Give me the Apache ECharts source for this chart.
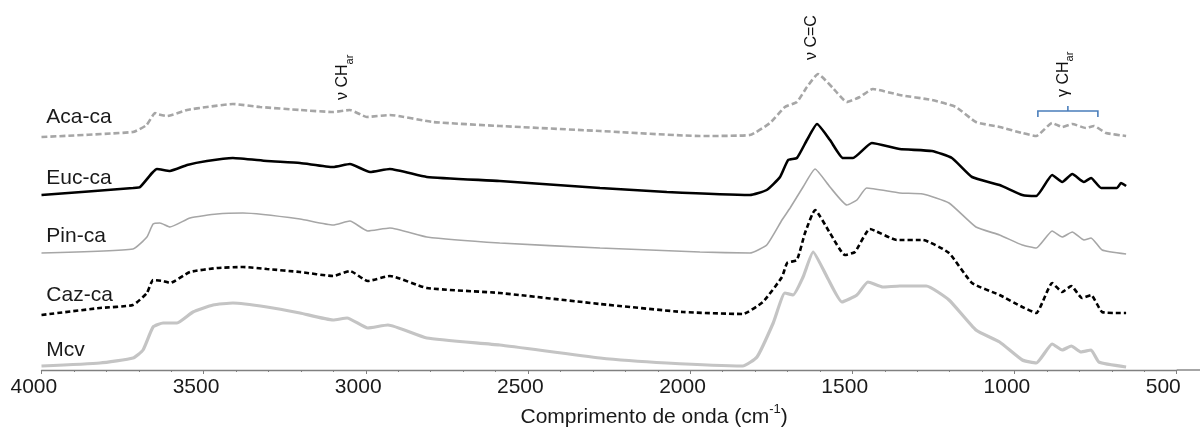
<!DOCTYPE html>
<html>
<head>
<meta charset="utf-8">
<script src="https://cdn.jsdelivr.net/npm/echarts@6/dist/echarts.min.js"></script>
<style>html,body{margin:0;padding:0;background:#fff}#c{width:1200px;height:428px}</style>
</head>
<body>
<div id="c"></div>
<script>
// ---- data (wavenumber cm-1, stacked intensity) ----
const seriesNames = ['Aca-ca', 'Euc-ca', 'Pin-ca', 'Caz-ca', 'Mcv'];
const xTicks = [4000, 3500, 3000, 2500, 2000, 1500, 1000, 500];

const acaCa = [[4000,233],[3718,238],[3676,245],[3650,257],[3644,256],[3613,254],[3551,260],[3490,263],[3410,266],[3326,263],[3203,260],[3101,258],[3049,260],[2997,253],[2926,255],[2793,248],[2587,244],[2278,239],[1970,234],[1816,235],[1754,247],[1708,263],[1671,268],[1640,283],[1606,296],[1560,282],[1517,268],[1477,273],[1437,281],[1354,275],[1255,270],[1181,263],[1119,248],[1046,243],[976,237],[933,234],[884,247],[853,243],[822,246],[780,242],[755,244],[718,237],[656,234]];
const eucCa = [[4000,175],[3718,182],[3696,183],[3659,197],[3644,201],[3604,199],[3551,205],[3490,209],[3410,212],[3305,209],[3203,207],[3101,203],[3049,206],[2987,198],[2926,201],[2812,193],[2587,189],[2278,182],[2072,178],[1816,175],[1764,180],[1723,193],[1698,210],[1671,212],[1640,230],[1609,246],[1569,230],[1529,212],[1498,212],[1440,227],[1354,221],[1255,219],[1193,212],[1131,193],[1046,185],[976,175],[933,174],[884,195],[853,188],[822,196],[786,188],[764,192],[733,182],[684,182],[672,187],[656,184]];
const pinCa = [[4000,117],[3718,121],[3675,133],[3656,146],[3635,147],[3604,143],[3542,152],[3459,156],[3379,157],[3203,151],[3101,145],[3049,149],[2994,139],[2926,142],[2812,133],[2587,127],[2278,122],[1970,118],[1816,117],[1764,125],[1717,150],[1692,162],[1652,183],[1615,201],[1569,183],[1517,165],[1486,170],[1456,182],[1354,177],[1283,176],[1202,167],[1119,143],[1046,135],[976,125],[933,122],[884,139],[853,133],[822,138],[786,130],[764,132],[730,120],[656,116]];
const cazCa = [[4000,55],[3820,62],[3718,65],[3675,77],[3656,90],[3625,89],[3604,87],[3542,98],[3459,102],[3379,103],[3305,101],[3203,98],[3101,94],[3049,99],[2994,89],[2926,94],[2812,82],[2587,77],[2278,66],[2022,58],[1838,56],[1776,68],[1717,93],[1701,107],[1671,110],[1646,137],[1615,160],[1569,137],[1523,115],[1492,118],[1446,141],[1363,130],[1283,130],[1202,117],[1131,87],[1046,75],[976,63],[933,57],[884,87],[853,78],[825,84],[792,72],[764,75],[730,58],[678,57],[656,57]];
const mcv = [[4000,4],[3820,7],[3718,12],[3687,20],[3656,43],[3625,47],[3582,47],[3533,58],[3471,65],[3410,67],[3305,63],[3203,57],[3101,50],[3058,52],[2994,42],[2932,45],[2812,32],[2587,25],[2278,12],[2072,7],[1838,4],[1794,13],[1744,47],[1708,77],[1683,75],[1652,93],[1621,118],[1578,93],[1532,68],[1486,75],[1452,88],[1406,83],[1354,84],[1272,84],[1202,70],[1119,40],[1046,28],[976,10],[933,7],[884,26],[853,20],[825,24],[795,18],[764,20],[740,8],[656,3]];

const annotations = [
  {main: 'ν CH', sub: 'ar', wn: 3064},
  {main: 'ν C=C', sub: '', wn: 1619},
  {main: 'γ CH', sub: 'ar', wn: 842}
];
const bracketRange = [928, 743];

// ---- layout / style ----
const seriesData = [acaCa, eucCa, pinCa, cazCa, mcv];
const labelLevels = [253, 192, 134, 75, 20];
const annotBottoms = [270, 310, 273];
const bracketLevel = 259;
const FONT = "'Liberation Sans', Arial, Helvetica, sans-serif";
const styles = [
  {color: '#a6a6a6', width: 2.6, type: [6, 3]},
  {color: '#000000', width: 2.6, type: 'solid'},
  {color: '#a6a6a6', width: 1.6, type: 'solid'},
  {color: '#000000', width: 2.6, type: [5, 3]},
  {color: '#c4c4c4', width: 3.2, type: 'solid'}
];

const chart = echarts.init(document.getElementById('c'), null, {renderer: 'canvas', width: 1200, height: 428});

chart.setOption({
  animation: false,
  backgroundColor: '#ffffff',
  grid: {left: 41.5, right: 23.3, top: 0, bottom: 58, containLabel: false, outerBoundsMode: 'none'},
  xAxis: {
    type: 'value', inverse: true, min: 500, max: 4000, interval: 500,
    name: '{a|Comprimento de onda (cm}{s|-1}{a|)}',
    nameLocation: 'middle', nameGap: 31,
    nameTextStyle: {
      padding: [0, 0, 0, 90],
      rich: {
        a: {fontSize: 21, fontFamily: FONT, color: '#1a1a1a', lineHeight: 25, verticalAlign: 'bottom'},
        s: {fontSize: 13, fontFamily: FONT, color: '#1a1a1a', lineHeight: 25, verticalAlign: 'top', padding: [0, 0, 8, 0]}
      }
    },
    axisLine: {show: true, lineStyle: {color: '#808080', width: 1.4}},
    axisTick: {show: true, length: 4, lineStyle: {color: '#808080', width: 1}},
    minorTick: {show: true, splitNumber: 5, length: 2, lineStyle: {color: '#808080', width: 1}},
    splitLine: {show: false},
    axisLabel: {
      fontSize: 21, fontFamily: FONT, color: '#1a1a1a', margin: 7,
      align: 'left', padding: [0, 0, 0, -31],
      formatter: v => (xTicks.indexOf(v) >= 0 ? String(v) : '')
    }
  },
  yAxis: {type: 'value', min: 0, max: 370, show: false},
  series: seriesData.map((d, i) => ({
    name: seriesNames[i], type: 'line', data: d, showSymbol: false, symbol: 'none',
    smooth: 0.15, lineStyle: styles[i], z: 2 + i
  }))
});

const px = (wn, h) => chart.convertToPixel({gridIndex: 0}, [wn, h]);
const graphics = [];

// axis line continuation beyond 500
const a0 = px(500, 0);
graphics.push({type: 'line', silent: true, shape: {x1: a0[0], y1: a0[1], x2: 1200, y2: a0[1]}, style: {stroke: '#808080', lineWidth: 1.4}});

// series names
seriesNames.forEach((n, i) => {
  const p = px(3985, labelLevels[i]);
  graphics.push({type: 'text', x: p[0], y: p[1], style: {text: n, fontSize: 21, fontFamily: FONT, fill: '#1a1a1a', align: 'left', verticalAlign: 'middle', textAlign: 'left', textVerticalAlign: 'middle'}});
});

// rotated annotations
annotations.forEach((a, i) => {
  const p = px(a.wn, annotBottoms[i]);
  const txt = '{m|' + a.main + '}' + (a.sub ? '{s|' + a.sub + '}' : '');
  graphics.push({
    type: 'text', x: p[0], y: p[1], rotation: Math.PI / 2,
    style: {
      text: txt, fill: '#111111', align: 'left', verticalAlign: 'middle', textAlign: 'left', textVerticalAlign: 'middle',
      rich: {
        m: {fontSize: 16, fontFamily: FONT, fill: '#111111', lineHeight: 20, verticalAlign: 'bottom', padding: [0, 0, 4, 0]},
        s: {fontSize: 11, fontFamily: FONT, fill: '#111111', lineHeight: 12, verticalAlign: 'bottom'}
      }
    }
  });
});

// bracket
const b1 = px(bracketRange[0], bracketLevel), b2 = px(bracketRange[1], bracketLevel);
const bm = px((bracketRange[0] + bracketRange[1]) / 2, bracketLevel);
graphics.push({type: 'polyline', shape: {points: [[b1[0], b1[1] + 6], [b1[0], b1[1]], [b2[0], b2[1]], [b2[0], b2[1] + 6]]}, style: {stroke: '#4a7ebb', lineWidth: 1.6, fill: null}});
graphics.push({type: 'line', shape: {x1: bm[0], y1: bm[1], x2: bm[0], y2: bm[1] - 5}, style: {stroke: '#4a7ebb', lineWidth: 1.6}});

chart.setOption({graphic: graphics});
</script>
</body>
</html>
